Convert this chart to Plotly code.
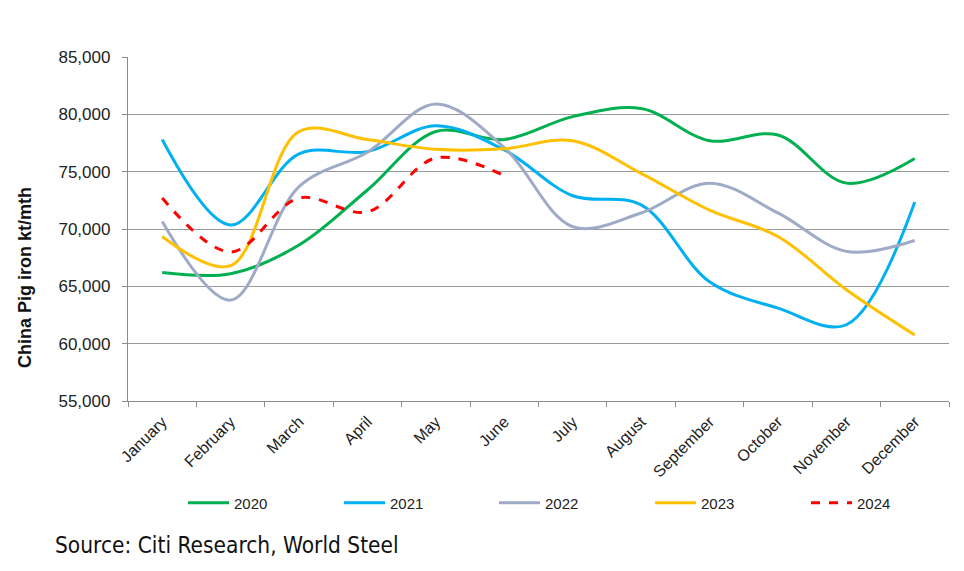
import plotly.graph_objects as go

months = ["January", "February", "March", "April", "May", "June", "July",
          "August", "September", "October", "November", "December"]

y2020 = [66200, 66100, 68600, 73400, 78500, 77800, 79800, 80500, 77700, 78200, 74000, 76150]
y2021 = [77800, 70350, 76550, 76750, 79000, 76900, 72900, 72100, 65400, 63100, 61650, 72350]
y2022 = [70650, 63800, 73700, 76700, 80900, 77100, 70200, 71400, 74000, 71400, 68050, 69000]
y2023 = [69350, 66800, 78500, 77800, 76950, 77000, 77700, 74850, 71650, 69350, 64700, 60750]
y2024 = [72700, 68000, 72700, 71500, 76200, 74650]

series = [
    ("2020", y2020, "#00B050", "solid"),
    ("2021", y2021, "#00B0F0", "solid"),
    ("2022", y2022, "#9FAAC6", "solid"),
    ("2023", y2023, "#FFC000", "solid"),
    ("2024", y2024, "#FF0000", "dash"),
]

W, H = 964, 571
L, R, T, B = 128, 15, 57, 170
pw, ph = W - L - R, H - T - B

def px_x(p):
    return (p - L) / pw

def px_y(p):
    return (H - B - p) / ph

legend_names = ["legend", "legend2", "legend3", "legend4", "legend5"]
legend_px = [183, 339, 494, 650, 806]

fig = go.Figure()
for i, (name, vals, color, dash) in enumerate(series):
    fig.add_trace(go.Scatter(
        x=months[:len(vals)], y=vals, name=name, mode="lines",
        line=dict(color=color, width=3, dash=dash, shape="spline", smoothing=1.0),
        legend=legend_names[i],
    ))

legend_layout = {}
for ln, lx in zip(legend_names, legend_px):
    legend_layout[ln] = dict(orientation="h", x=px_x(lx), xanchor="left", y=px_y(503),
                             yanchor="middle", font=dict(size=15, color="#222222"),
                             itemwidth=41, bgcolor="rgba(0,0,0,0)")

fig.update_layout(
    width=W, height=H,
    margin=dict(l=L, r=R, t=T, b=B),
    paper_bgcolor="white", plot_bgcolor="white",
    font=dict(family="Liberation Sans, Arial, sans-serif", color="#222222"),
    showlegend=True,
    xaxis=dict(type="category", categoryorder="array", categoryarray=months,
               range=[-0.5, 11.5], tickson="boundaries", ticks="outside", ticklen=5,
               tickcolor="#8c8c8c", showline=True, linecolor="#8c8c8c", linewidth=1.3,
               tickangle=-45, tickfont=dict(size=16, color="#222222"), showgrid=False,
               ticklabelstandoff=4, fixedrange=True),
    yaxis=dict(range=[55000, 85000], dtick=5000, tickformat=",", ticks="outside", ticklen=5,
               tickcolor="#8c8c8c", showline=True, linecolor="#8c8c8c", linewidth=1.3,
               gridcolor="#9a9a9a", gridwidth=1.3, tickfont=dict(size=17, color="#222222"),
               ticklabelstandoff=8, zeroline=False),
    annotations=[
        dict(text="<b>China Pig iron kt/mth</b>", x=px_x(25), y=px_y(277), xref="paper",
             yref="paper", textangle=-90, showarrow=False, font=dict(size=18, color="#111111"),
             xanchor="center", yanchor="middle"),
        dict(text="Source: Citi Research, World Steel", x=px_x(53), y=px_y(545), xref="paper",
             yref="paper", showarrow=False, xanchor="left", yanchor="middle",
             font=dict(size=22.5, color="#111111",
                       family="DejaVu Sans Condensed, Liberation Sans Narrow, sans-serif")),
    ],
    **legend_layout,
)

fig.write_html("out.html")
